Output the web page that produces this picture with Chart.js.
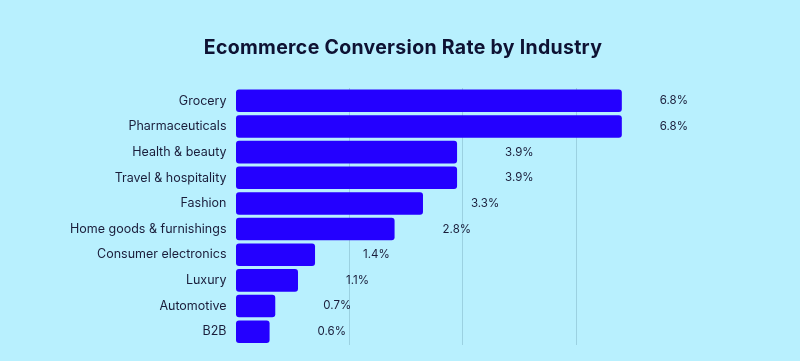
<!DOCTYPE html>
<html>
<head>
<meta charset="utf-8">
<script src="https://cdn.jsdelivr.net/npm/chart.js@4/dist/chart.umd.min.js"></script>
<style>
  html, body { margin: 0; padding: 0; background: #b8f0fe; }
  #wrap { width: 800px; height: 361px; position: relative; }
</style>
</head>
<body>
<div id="wrap"><canvas id="c" width="800" height="361"></canvas></div>
<script>
const categories = ["Grocery", "Pharmaceuticals", "Health & beauty", "Travel & hospitality", "Fashion",
  "Home goods & furnishings", "Consumer electronics", "Luxury", "Automotive", "B2B"];
const conversionRates = [6.8, 6.8, 3.9, 3.9, 3.3, 2.8, 1.4, 1.1, 0.7, 0.6];
const valueLabels = ["6.8%", "6.8%", "3.9%", "3.9%", "3.3%", "2.8%", "1.4%", "1.1%", "0.7%", "0.6%"];
const titleText = "Ecommerce Conversion Rate by Industry";

const BG = "#b8f0fe";
const BAR = "#2400ff";
const TEXT = "#1a1d3a";

const bgPlugin = {
  id: "bg",
  beforeDraw(chart) {
    const ctx = chart.ctx;
    ctx.save();
    ctx.fillStyle = BG;
    ctx.fillRect(0, 0, chart.width, chart.height);
    ctx.restore();
  }
};

const titlePlugin = {
  id: "pageTitle",
  afterDraw(chart) {
    const ctx = chart.ctx;
    ctx.save();
    ctx.font = "bold 19.5px Inter, 'Noto Sans', sans-serif";
    try { ctx.letterSpacing = "0.3px"; } catch (e) {}
    ctx.fillStyle = "#0e1233";
    ctx.textAlign = "center";
    ctx.textBaseline = "alphabetic";
    ctx.fillText(titleText, chart.width / 2 + 3, 54);
    ctx.restore();
  }
};

const valueLabelPlugin = {
  id: "valueLabels",
  afterDatasetsDraw(chart) {
    const ctx = chart.ctx;
    const meta = chart.getDatasetMeta(0);
    const xs = chart.scales.x;
    ctx.save();
    ctx.font = "11.5px Inter, 'Noto Sans', sans-serif";
    ctx.fillStyle = TEXT;
    ctx.textBaseline = "middle";
    ctx.textAlign = "left";
    meta.data.forEach((bar, i) => {
      const txt = valueLabels[i];
      const w = ctx.measureText(txt).width;
      let x = xs.getPixelForValue(conversionRates[i]) + 48;
      x = Math.min(x, chart.chartArea.right - 2 - w);
      ctx.fillText(txt, x, bar.y);
    });
    ctx.restore();
  }
};

new Chart(document.getElementById("c"), {
  type: "bar",
  data: {
    labels: categories,
    datasets: [{
      data: conversionRates,
      backgroundColor: BAR,
      borderRadius: 3,
      borderSkipped: false,
      categoryPercentage: 1.0,
      barPercentage: 0.88
    }]
  },
  options: {
    indexAxis: "y",
    responsive: false,
    animation: false,
    devicePixelRatio: 1,
    layout: { padding: { top: 88, left: 0, right: 110, bottom: 16 } },
    plugins: {
      legend: { display: false },
      tooltip: { enabled: false },
      title: { display: false }
    },
    scales: {
      x: {
        min: 0,
        max: 8,
        ticks: { display: false, stepSize: 2 },
        border: { display: false },
        grid: {
          drawTicks: false,
          color: (c) => (c.tick && (c.tick.value === 2 || c.tick.value === 4 || c.tick.value === 6)) ? "rgba(120,170,190,0.45)" : "rgba(0,0,0,0)",
          lineWidth: 1
        },
        afterFit(s) { s.height = 0; }
      },
      y: {
        border: { display: false },
        grid: { display: false, drawTicks: false },
        ticks: {
          color: TEXT,
          padding: 9,
          font: { family: "Inter, 'Noto Sans', sans-serif", size: 12.5 }
        },
        afterFit(s) { s.width = 235.5; }
      }
    }
  },
  plugins: [bgPlugin, valueLabelPlugin, titlePlugin]
});
</script>
</body>
</html>
